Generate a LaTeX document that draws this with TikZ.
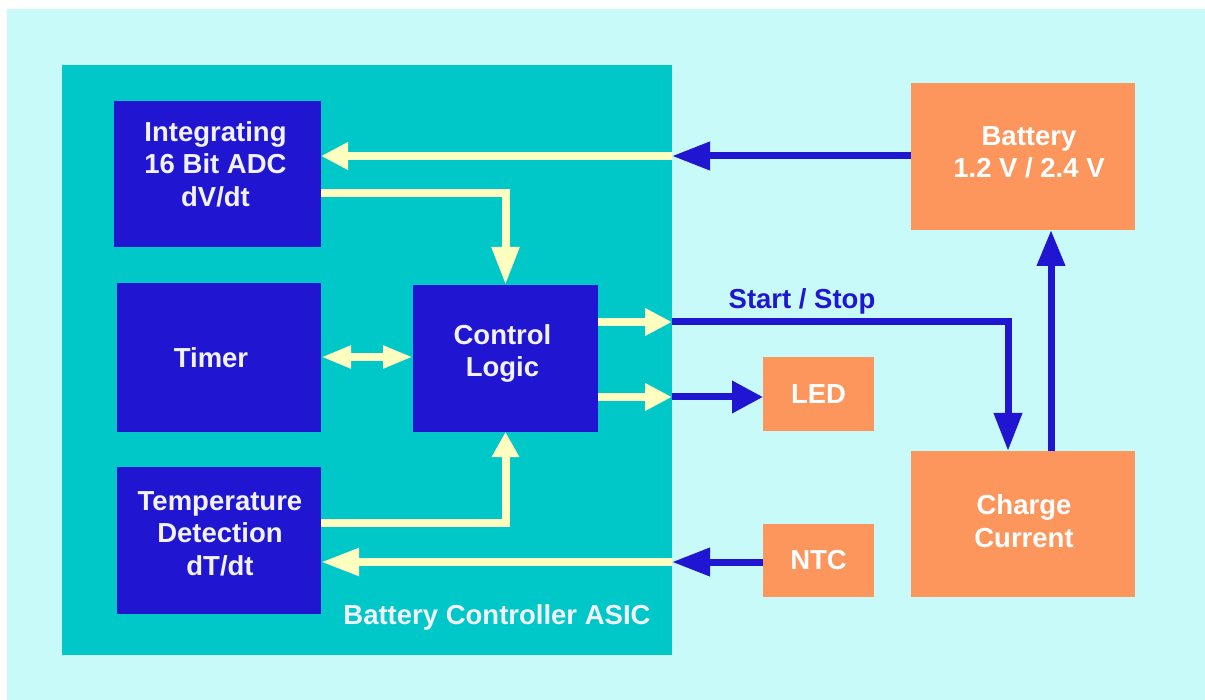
\documentclass[tikz,border=0pt]{standalone}
\usepackage{fontspec}
\setmainfont{Liberation Sans}
\usetikzlibrary{arrows.meta,calc}
\definecolor{bgc}{RGB}{200,250,250}
\definecolor{teal}{RGB}{0,200,200}
\definecolor{dblue}{RGB}{32,22,210}
\definecolor{orng}{RGB}{252,150,92}
\definecolor{yel}{RGB}{255,255,192}
\definecolor{txtc}{RGB}{242,242,255}
\tikzset{
  box/.style={draw=none, inner sep=0pt, outer sep=0pt, anchor=north west},
  bluebox/.style={box, fill=dblue},
  orangebox/.style={box, fill=orng, text=white, font=\fontsize{27}{31}\selectfont\bfseries, align=center},
  txt/.style={text=txtc, font=\fontsize{27.5}{32.5}\selectfont\bfseries, align=center, inner sep=0pt},
  yelarr/.style={draw=yel, line width=8pt, -{Triangle[length=#1, width=26pt]}},
  yelarr/.default=27pt,
  bluearr/.style={draw=dblue, line width=7pt, -{Triangle[length=#1, width=27pt]}},
  bluearr/.default=38pt,
}
\begin{document}
\begin{tikzpicture}[x=1pt,y=-1pt]
\useasboundingbox (0,0) rectangle (1205,700);
\fill[white] (0,0) rectangle (1205,700);
\fill[bgc] (7,9) rectangle (1205,700);

% ASIC
\node[box, fill=teal, minimum width=610pt, minimum height=590pt] (asic) at (62,65) {};
\node[txt] (asiclbl) at (497,617) {Battery Controller ASIC};

% inner blocks
\node[bluebox, minimum width=207pt, minimum height=146pt] (adc) at (114,101) {};
\node[txt] (adct) at ($(adc.center)+(-2,-10)$) {Integrating\\16 Bit ADC\\dV/dt};
\node[bluebox, minimum width=204pt, minimum height=149pt] (timer) at (117,283) {};
\node[txt] (timert) at ($(timer.center)+(-8,0)$) {Timer};
\node[bluebox, minimum width=185pt, minimum height=147pt] (ctrl) at (413,285) {};
\node[txt] (ctrlt) at ($(ctrl.center)+(-3,-5)$) {Control\\Logic};
\node[bluebox, minimum width=204pt, minimum height=147pt] (temp) at (117,467) {};
\node[txt] (tempt) at ($(temp.center)+(1,-7)$) {Temperature\\Detection\\dT/dt};

% outer blocks
\node[orangebox, minimum width=224pt, minimum height=147pt] (bat) at (911,83) {};
\node[txt, text=white] (batt) at ($(bat.center)+(6,-4)$) {Battery\\1.2 V / 2.4 V};
\node[orangebox, minimum width=224pt, minimum height=146pt] (chg) at (911,451) {};
\node[txt, text=white] (chgt) at ($(chg.center)+(1,-3)$) {Charge\\Current};
\node[orangebox, minimum width=111pt, minimum height=74pt] (led) at (763,357) {};
\node[txt, text=white] (ledt) at (led.center) {LED};
\node[orangebox, minimum width=111pt, minimum height=73pt] (ntc) at (763,524) {};
\node[txt, text=white] (ntct) at (ntc.center) {NTC};

% edge coordinates on the ASIC border
\coordinate (e1) at (672,156);
\coordinate (e2) at (672,322);
\coordinate (e3) at (672,397);
\coordinate (e4) at (672,562);

% Battery -> ADC
\draw[bluearr] (bat.west |- e1) -- (e1);
\draw[yelarr] (e1) -- (adc.east |- e1);

% ADC -> Control
\draw[yelarr=38pt] (adc.east |- 0,193) -| (ctrl.north);

% Timer <-> Control
\draw[draw=yel, line width=8pt, {Triangle[length=30pt,width=21pt]}-{Triangle[length=30pt,width=21pt]}] (timer.east |- 0,357) -- (ctrl.west |- 0,357);

% Control -> Start/Stop -> Charge current
\draw[yelarr] (ctrl.east |- e2) -- (e2);
\draw[bluearr] (e2) -| (chg.north -| 1008,0);
\node[text=dblue, font=\fontsize{27.5}{31}\selectfont\bfseries, inner sep=0pt] (ss) at (802,301) {Start / Stop};

% Control -> LED
\draw[yelarr] (ctrl.east |- e3) -- (e3);
\draw[draw=dblue, line width=7pt, -{Triangle[length=31pt,width=31pt]}] (e3) -- (led.west |- e3);

% Charge current -> Battery
\draw[bluearr=36pt] (chg.north -| 1051,0) -- (bat.south -| 1051,0);

% Temperature -> Control
\draw[yelarr=25pt] (temp.east |- 0,523) -| (ctrl.south);

% NTC -> Temperature
\draw[bluearr] (ntc.west |- e4) -- (e4);
\draw[yelarr=38pt] (e4) -- (temp.east |- e4);
\end{tikzpicture}
\end{document}
